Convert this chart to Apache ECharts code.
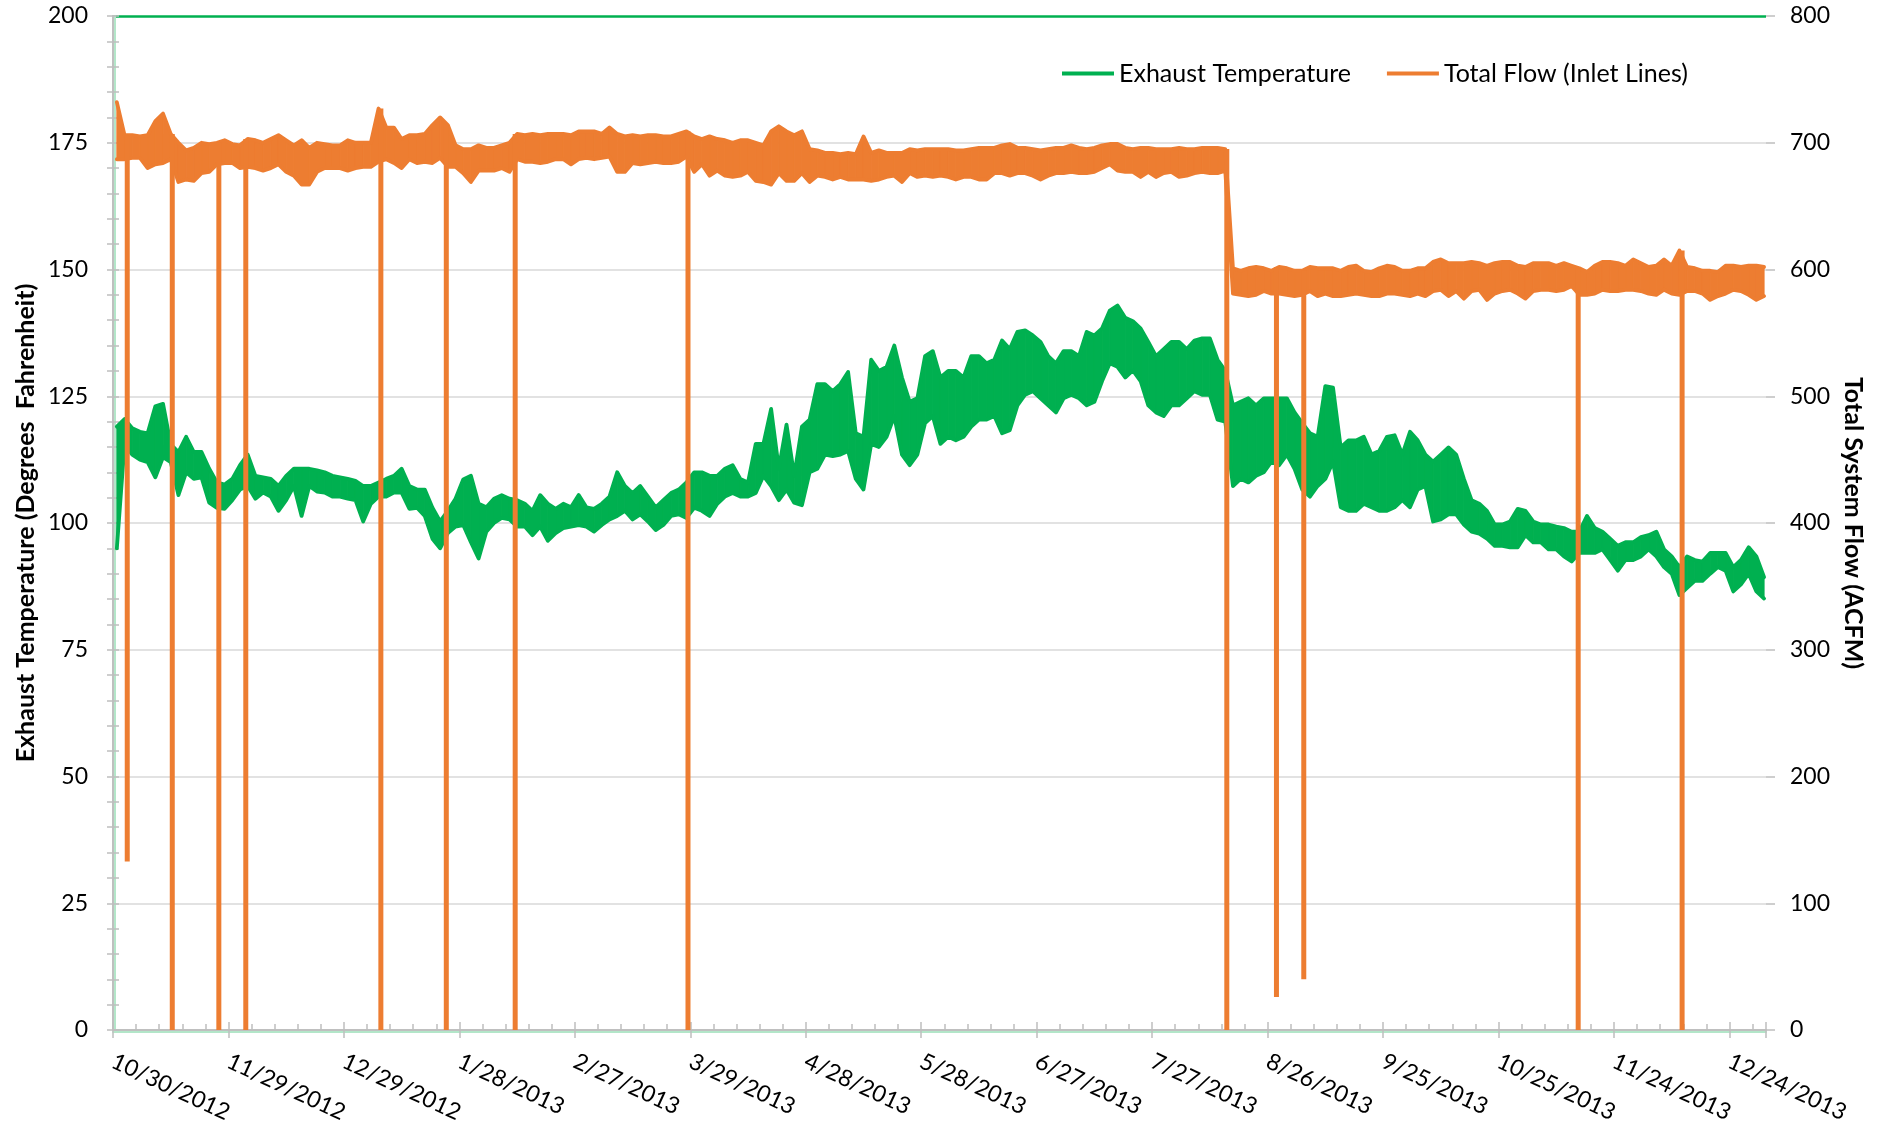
<!DOCTYPE html>
<html>
<head>
<meta charset="utf-8">
<script src="https://cdn.jsdelivr.net/npm/echarts@6/dist/echarts.min.js"></script>
<style>
html,body{margin:0;padding:0;background:#ffffff;}
#chart{width:1884px;height:1133px;}
</style>
</head>
<body>
<div id="chart"></div>
<script>
// x tick labels (every 30 days starting 10/30/2012)
const xTickLabels = ['10/30/2012','11/29/2012','12/29/2012','1/28/2013','2/27/2013','3/29/2013','4/28/2013','5/28/2013','6/27/2013','7/27/2013','8/26/2013','9/25/2013','10/25/2013','11/24/2013','12/24/2013'];
const daysPerBin = 2;   // each bin = 2 days; high / low
const xMaxDay = 429.5;

// Exhaust temperature (deg F): upper and lower envelope per 2-day bin
const tempHigh = [119,120.5,118.7,118,117.7,123,123.5,115.5,114,117,114,114,110.7,108,107.6,108.7,111.4,113.5,109.3,109,
108.7,107.3,109.3,110.7,110.7,110.7,110.4,110,109.3,109,108.7,108.3,107.3,107.3,108,108.7,109.3,110.7,107.3,106.6,
106.6,103,100.3,102.4,104.8,108.6,109.3,103.8,103.1,104.8,105.5,104.8,104.5,103.8,102.4,105.5,103.8,102.8,103.8,103.1,
105.5,103.1,102.8,103.8,105.2,110,107.3,105.9,107.3,105.2,103.1,104.5,105.9,106.6,108,110,110,109.3,109.3,110.7,
111.4,108.7,108,115.6,115.6,122.5,110.7,119.4,109.3,119,120.4,127.4,127.4,126,127.4,129.8,117.7,117,132.2,130,
130.8,135,128.7,123.9,124.6,132.9,133.9,128.7,130,130,128.7,132.9,132.9,131.5,132.2,136,134.3,137.7,138,137,
135.7,132.9,131.5,133.9,133.9,132.9,137.7,137,138.4,141.9,142.9,140.5,139.8,138.4,135.7,132.9,134.3,135.7,135.7,134.3,
136,136.4,136.4,132.2,130,123.2,123.9,124.6,123.2,124.6,124.6,124.6,124.6,121.8,119.7,117.7,117,127,126.7,114.9,
116.3,116.3,117,113.5,114.2,117,117.3,113.5,118,116.3,113.5,112.1,113.5,114.9,113.5,108.7,104.5,103.8,102.4,99.7,
99.7,100.3,102.8,102.4,100.3,99.7,99.7,99.3,99,98.3,98.3,101.4,99,98.3,96.9,95.5,96.2,96.2,97.2,97.6,
98.3,94.8,93.4,91.3,93.4,92.7,92.4,94.1,94.1,94.1,91.3,92.7,95.2,93.4,89.3];
const tempLow = [95,115.5,113.5,112.5,112,109,113,112,105.5,110,108.7,109,104,103,102.8,104.5,106.6,107.3,104.8,106,
105.2,102.4,104.5,107.3,101.4,107.3,106.2,106,105.2,105.2,104.8,104.5,100.3,103.8,105.2,105.2,106,106,102.8,103,
101.4,96.9,95,98,99.3,99.6,96.2,93,98.3,100,101,100.7,99.3,99.3,97.6,99.3,96.5,98,99,99.3,
99.6,99.3,98.3,99.6,100.7,101.4,102.4,100.7,101.7,100.3,98.6,99.6,101.4,101.7,101,103,102.4,101.4,103.8,105.2,
105.9,105.2,105.2,105.9,109.3,107.3,104.5,106.6,104,103.5,110,110.7,113.5,113.2,113.5,114.2,108.7,106.6,115.6,115,
117,121.1,113.5,111.4,113.5,119.7,121.1,115.6,117,116.3,117,119,120.4,120.4,121.1,117.7,118.3,123.2,125.3,126,
124.6,123.2,121.8,124.6,125.3,124.6,123.2,123.9,128,131.5,130.8,128.7,130.1,128,123.2,121.8,121.1,123.2,123.2,124.6,
126,125.3,125.3,120.4,120,107.3,108.7,108,109.3,110,112.1,111.4,113.5,110.7,106.6,105.2,107.3,108.7,112.1,103.1,
102.4,102.4,103.8,103.1,102.4,102.4,103.1,104.5,103.1,106.6,107.3,100.3,100.7,101.7,101.7,99.7,98.3,97.9,96.9,95.5,
95.5,95.2,95.2,97.6,96.2,96.2,94.8,94.8,93.4,92.4,94.1,94.1,94.1,94.8,92.7,90.6,92.7,92.7,93.4,94.8,
93.4,91.3,90,85.8,87.2,88.6,88.6,90,91.3,90.6,86.5,87.9,90,86.5,85.1];

// Total flow (ACFM): upper and lower envelope per 2-day bin
const flowHigh = [732,706,706,705,706,717,723,707,700,694,696,700,699,700,702,699,698,703,702,700,
703,706,702,698,702,696,700,699,698,698,702,700,700,700,727,712,712,703,706,706,
707,714,720,714,698,695,695,698,696,696,698,700,707,706,707,706,707,707,707,706,
709,709,709,707,712,707,705,706,705,706,706,705,705,707,709,705,703,705,703,702,
700,702,702,700,698,709,713,709,706,709,695,694,692,692,691,692,691,705,692,694,
692,692,692,695,694,695,695,695,695,694,694,695,696,696,696,698,699,696,696,695,
694,695,696,696,698,696,695,696,698,699,699,696,695,696,696,695,695,695,696,695,
695,696,696,696,695,601,599,601,602,601,599,602,601,599,599,602,601,601,601,599,
602,603,599,598,601,603,602,599,599,601,601,606,608,605,605,605,606,605,603,605,
606,606,603,602,605,605,605,603,605,603,601,598,603,606,606,605,603,608,605,602,
603,608,603,615,602,601,599,599,598,603,603,602,603,603,602];
const flowLow = [687,687,688,688,680,683,684,687,669,671,670,676,677,683,684,684,680,681,680,678,
680,683,677,674,667,667,677,680,680,680,678,680,681,681,685,687,684,680,687,684,
685,684,688,681,681,676,669,678,678,678,680,677,687,685,685,684,685,687,687,683,
687,688,687,688,689,677,677,684,683,684,685,684,684,685,689,677,683,674,678,674,
673,674,677,670,669,667,676,670,670,676,669,674,673,671,673,671,671,671,670,671,
673,674,669,676,673,674,673,674,673,671,673,673,671,671,676,676,674,676,676,674,
671,674,676,676,677,676,676,677,680,683,678,677,677,673,677,673,676,677,673,674,
676,677,676,676,678,581,580,579,580,583,581,581,580,579,580,583,579,581,579,579,
580,581,580,579,579,581,581,580,579,581,579,583,584,579,583,577,583,584,576,581,
583,584,581,577,583,584,584,583,584,587,580,580,581,584,583,583,584,584,583,581,
580,584,581,580,583,583,581,576,579,581,584,583,580,576,579];

// Flow outages (day offset from 10/30/2012 and minimum flow)
const flowDipDays = [3.7,15.4,27.5,34.5,69.6,86.6,104.5,149.4,289.4,302.3,309.4,380.7,407.7];
const flowDipValues = [133,0,0,0,0,0,0,0,0,26,40,0,0];

function binX(k) { return k * daysPerBin + daysPerBin / 2; }
const tempHiLine = tempHigh.map((v, k) => [binX(k), v]);
const tempLoLine = tempLow.map((v, k) => [binX(k), v]);
const flowHiLine = flowHigh.map((v, k) => [binX(k), v]);
const flowLoLine = flowLow.map((v, k) => [binX(k), v]);
const dipData = [];
for (let i = 0; i < flowDipDays.length; i++) {
  const k = Math.min(flowLow.length - 1, Math.floor(flowDipDays[i] / daysPerBin));
  dipData.push([flowDipDays[i], flowHigh[k]]);
  dipData.push([flowDipDays[i], flowDipValues[i]]);
  dipData.push([flowDipDays[i], '-']);
}

const FONT = 'Lato';
const AXIS_GRAY = '#bfbfbf';
const GRID_GRAY = '#d9d9d9';
const GREEN = '#00b050';
const ORANGE = '#ed7d31';
const LW = 3.8;

// filled envelope between low and high, drawn through the axis scales
function bandSeries(id, hiArr, loArr, color, yAxisIndex, z) {
  return {
    id: id, name: id, type: 'custom', xAxisIndex: 0, yAxisIndex: yAxisIndex, z: z,
    clip: true, silent: true,
    data: hiArr.map((v, k) => [binX(k), loArr[k], v]),
    encode: {x: 0, y: [1, 2]},
    renderItem: function (params, api) {
      const i = params.dataIndex;
      if (i >= hiArr.length - 1) return null;
      const a = api.coord([binX(i), hiArr[i]]);
      const b = api.coord([binX(i + 1), hiArr[i + 1]]);
      const c = api.coord([binX(i + 1), loArr[i + 1]]);
      const d = api.coord([binX(i), loArr[i]]);
      return {type: 'polygon', shape: {points: [a, b, c, d]}, style: {fill: color, stroke: color, lineWidth: 1}};
    }
  };
}
function edgeLine(name, data, color, yAxisIndex, z) {
  return {
    name: name, type: 'line', xAxisIndex: 0, yAxisIndex: yAxisIndex, z: z,
    data: data, showSymbol: false, symbol: 'none',
    lineStyle: {color: color, width: LW, join: 'round', cap: 'round'},
    itemStyle: {color: color}
  };
}

const chart = echarts.init(document.getElementById('chart'), null, {renderer: 'canvas'});
chart.setOption({
  animation: false,
  backgroundColor: '#ffffff',
  grid: {left: 113, right: 118, top: 16, bottom: 103, outerBoundsMode: 'none', containLabel: false},
  legend: {
    data: ['Exhaust Temperature', 'Total Flow (Inlet Lines)'],
    left: 1057, top: 56,
    icon: 'rect', itemWidth: 52, itemHeight: 4, itemGap: 36,
    textStyle: {fontFamily: FONT, fontSize: 25, color: '#000'}
  },
  xAxis: [{
    type: 'value', min: 0, max: xMaxDay, interval: 30, position: 'bottom',
    axisLine: {show: true, lineStyle: {color: AXIS_GRAY, width: 2, shadowColor: '#b3e6c9', shadowOffsetY: 2, shadowBlur: 0}},
    axisTick: {show: true, inside: true, length: 8, lineStyle: {color: AXIS_GRAY, width: 1.5}},
    minorTick: {show: true, splitNumber: 5, length: 6, lineStyle: {color: AXIS_GRAY, width: 1.5}},
    splitLine: {show: false},
    axisLabel: {
      show: true, rotate: -25, margin: 30, interval: 0,
      fontFamily: FONT, fontSize: 23, color: '#000',
      showMinLabel: true, showMaxLabel: true, hideOverlap: false,
      formatter: v => (Math.abs(v % 30) < 1e-6 && v / 30 < xTickLabels.length) ? xTickLabels[Math.round(v / 30)] : ''
    }
  }, {
    type: 'value', min: 0, max: xMaxDay, interval: 30, position: 'bottom',
    axisLine: {show: false},
    axisTick: {show: true, inside: false, length: 8, lineStyle: {color: AXIS_GRAY, width: 1.5}},
    axisLabel: {show: false}, splitLine: {show: false}
  }],
  yAxis: [{
    type: 'value', min: 0, max: 200, interval: 25, position: 'left',
    name: 'Exhaust Temperature (Degrees  Fahrenheit)', nameLocation: 'middle', nameRotate: 90, nameGap: 75,
    nameMoveOverlap: false,
    nameTextStyle: {fontFamily: FONT, fontSize: 25, fontWeight: 'bold', color: '#000'},
    axisLine: {show: true, lineStyle: {color: AXIS_GRAY, width: 2}},
    axisTick: {show: true, inside: true, length: 6, lineStyle: {color: AXIS_GRAY, width: 1.5}},
    minorTick: {show: true, splitNumber: 5, length: 6, lineStyle: {color: AXIS_GRAY, width: 1.5}},
    splitLine: {show: true, showMaxLine: false, lineStyle: {color: GRID_GRAY, width: 1.5}},
    axisLabel: {margin: 25, fontFamily: FONT, fontSize: 23, color: '#000'}
  }, {
    type: 'value', min: 0, max: 800, interval: 100, position: 'right',
    name: 'Total System Flow (ACFM)', nameLocation: 'middle', nameRotate: -90, nameGap: 75,
    nameMoveOverlap: false,
    nameTextStyle: {fontFamily: FONT, fontSize: 25, fontWeight: 'bold', color: '#000'},
    axisLine: {show: true, lineStyle: {color: AXIS_GRAY, width: 2, shadowColor: '#b3e6c9', shadowOffsetX: 2, shadowBlur: 0}},
    axisTick: {show: true, inside: true, length: 6, lineStyle: {color: AXIS_GRAY, width: 1.5}},
    minorTick: {show: true, splitNumber: 5, length: 6, lineStyle: {color: AXIS_GRAY, width: 1.5}},
    splitLine: {show: true, lineStyle: {color: ['rgba(0,0,0,0)','rgba(0,0,0,0)','rgba(0,0,0,0)','rgba(0,0,0,0)','rgba(0,0,0,0)','rgba(0,0,0,0)','rgba(0,0,0,0)','rgba(0,0,0,0)', GREEN], width: 2.5}},
    axisLabel: {margin: 24, fontFamily: FONT, fontSize: 23, color: '#000'}
  }, {
    type: 'value', min: 0, max: 800, interval: 100, position: 'right',
    axisLine: {show: false},
    axisTick: {show: true, inside: false, length: 9, lineStyle: {color: AXIS_GRAY, width: 1.5}},
    axisLabel: {show: false}, splitLine: {show: false}
  }],
  series: [
    edgeLine('Exhaust Temperature', tempHiLine, GREEN, 0, 2),
    edgeLine('Exhaust Temperature', tempLoLine, GREEN, 0, 2),
    bandSeries('tempBand', tempHigh, tempLow, GREEN, 0, 2),
    edgeLine('Total Flow (Inlet Lines)', flowHiLine, ORANGE, 1, 3),
    edgeLine('Total Flow (Inlet Lines)', flowLoLine, ORANGE, 1, 3),
    bandSeries('flowBand', flowHigh, flowLow, ORANGE, 1, 3),
    {
      name: 'Total Flow (Inlet Lines)', type: 'line', xAxisIndex: 0, yAxisIndex: 1, z: 4,
      data: dipData, showSymbol: false, symbol: 'none', connectNulls: false,
      lineStyle: {color: ORANGE, width: 5, cap: 'butt'},
      itemStyle: {color: ORANGE}
    }
  ]
});
</script>
</body>
</html>
